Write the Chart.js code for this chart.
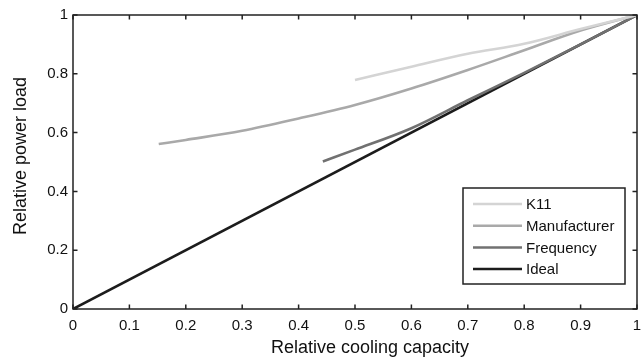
<!DOCTYPE html>
<html><head><meta charset="utf-8">
<script src="https://cdn.jsdelivr.net/npm/chart.js@4/dist/chart.umd.min.js"></script>
<style>html,body{margin:0;padding:0;background:#fff}#wrap{width:644px;height:359px}</style>
</head><body><div id="wrap"><canvas id="c" width="644" height="359"></canvas></div>
<script>
const xTickLabels = ['0','0.1','0.2','0.3','0.4','0.5','0.6','0.7','0.8','0.9','1'];
const yTickLabels = ['0','0.2','0.4','0.6','0.8','1'];
const xAxisTitle = 'Relative cooling capacity';
const yAxisTitle = 'Relative power load';
const seriesNames = ['K11','Manufacturer','Frequency','Ideal'];
const k11X = [0.5, 0.6, 0.7, 0.8, 0.9, 1.0];
const k11Y = [0.779, 0.824, 0.868, 0.902, 0.952, 1.0];
const manX = [0.152, 0.2, 0.3, 0.4, 0.5, 0.6, 0.7, 0.8, 0.9, 1.0];
const manY = [0.561, 0.575, 0.606, 0.648, 0.694, 0.75, 0.813, 0.88, 0.947, 1.0];
const freqX = [0.443, 0.5, 0.6, 0.7, 0.8, 0.9, 1.0];
const freqY = [0.502, 0.542, 0.615, 0.71, 0.803, 0.9, 1.0];
const idealX = [0, 1];
const idealY = [0, 1];
const colors = ['#d4d4d4','#a9a9a9','#717171','#1c1c1c'];

const pts = (xs, ys) => xs.map((x, i) => ({x, y: ys[i]}));
const FONT = '"Liberation Sans", Arial, sans-serif';

const framePlugin = {
  id: 'frame',
  afterDraw(chart) {
    const {ctx, chartArea: a, scales} = chart;
    ctx.save();
    ctx.strokeStyle = '#222';
    ctx.lineWidth = 1.5;
    ctx.strokeRect(a.left, a.top, a.right - a.left, a.bottom - a.top);
    const tl = 4.5;
    ctx.beginPath();
    scales.x.ticks.forEach(t => {
      const px = scales.x.getPixelForValue(t.value);
      ctx.moveTo(px, a.bottom); ctx.lineTo(px, a.bottom - tl);
      ctx.moveTo(px, a.top); ctx.lineTo(px, a.top + tl);
    });
    scales.y.ticks.forEach(t => {
      const py = scales.y.getPixelForValue(t.value);
      ctx.moveTo(a.left, py); ctx.lineTo(a.left + tl, py);
      ctx.moveTo(a.right, py); ctx.lineTo(a.right - tl, py);
    });
    ctx.stroke();
    // axis titles
    ctx.fillStyle = '#111';
    ctx.font = '18px ' + FONT;
    ctx.textAlign = 'center';
    ctx.textBaseline = 'middle';
    ctx.fillText(xAxisTitle, 370, 348);
    ctx.save();
    ctx.translate(21, 156);
    ctx.rotate(-Math.PI / 2);
    ctx.fillText(yAxisTitle, 0, 0);
    ctx.restore();
    // legend
    const bx = 463, by = 188, bw = 162, bh = 96;
    ctx.fillStyle = '#fff';
    ctx.fillRect(bx, by, bw, bh);
    ctx.lineWidth = 1.5;
    ctx.strokeStyle = '#222';
    ctx.strokeRect(bx, by, bw, bh);
    ctx.font = '15px ' + FONT;
    ctx.textAlign = 'left';
    ctx.textBaseline = 'middle';
    chart.data.datasets.forEach((ds, i) => {
      const yy = by + 16 + i * 21.7;
      ctx.strokeStyle = ds.borderColor;
      ctx.lineWidth = 2.5;
      ctx.beginPath(); ctx.moveTo(bx + 10, yy); ctx.lineTo(bx + 59, yy); ctx.stroke();
      ctx.fillStyle = '#111';
      ctx.fillText(ds.label, bx + 63, yy + 1);
    });
    ctx.restore();
  }
};

const mk = (i, xs, ys) => ({
  label: seriesNames[i], data: pts(xs, ys), borderColor: colors[i], backgroundColor: colors[i],
  borderWidth: 2.6, pointRadius: 0, cubicInterpolationMode: 'monotone', fill: false
});

new Chart(document.getElementById('c'), {
  type: 'line',
  data: { datasets: [mk(0,k11X,k11Y), mk(1,manX,manY), mk(2,freqX,freqY), mk(3,idealX,idealY)] },
  options: {
    responsive: false, animation: false, devicePixelRatio: 1,
    layout: { padding: { top: 15, right: 7, left: 0, bottom: 0 } },
    plugins: { legend: { display: false }, tooltip: { enabled: false } },
    scales: {
      x: {
        type: 'linear', min: 0, max: 1,
        afterFit(s) { s.height = 50; s.paddingLeft = 0; s.paddingRight = 0; },
        ticks: { stepSize: 0.1, padding: 8, color: '#111', font: { family: FONT, size: 15 },
          callback: (v, i) => xTickLabels[i], maxRotation: 0, autoSkip: false },
        grid: { display: false, drawTicks: false },
        border: { display: false },
        title: { display: false }
      },
      y: {
        type: 'linear', min: 0, max: 1,
        afterFit(s) { s.width = 73; s.paddingTop = 0; s.paddingBottom = 0; },
        ticks: { stepSize: 0.2, padding: 5, color: '#111', font: { family: FONT, size: 15 },
          callback: (v, i) => yTickLabels[i] },
        grid: { display: false, drawTicks: false },
        border: { display: false },
        title: { display: false }
      }
    }
  },
  plugins: [framePlugin]
});
</script></body></html>
